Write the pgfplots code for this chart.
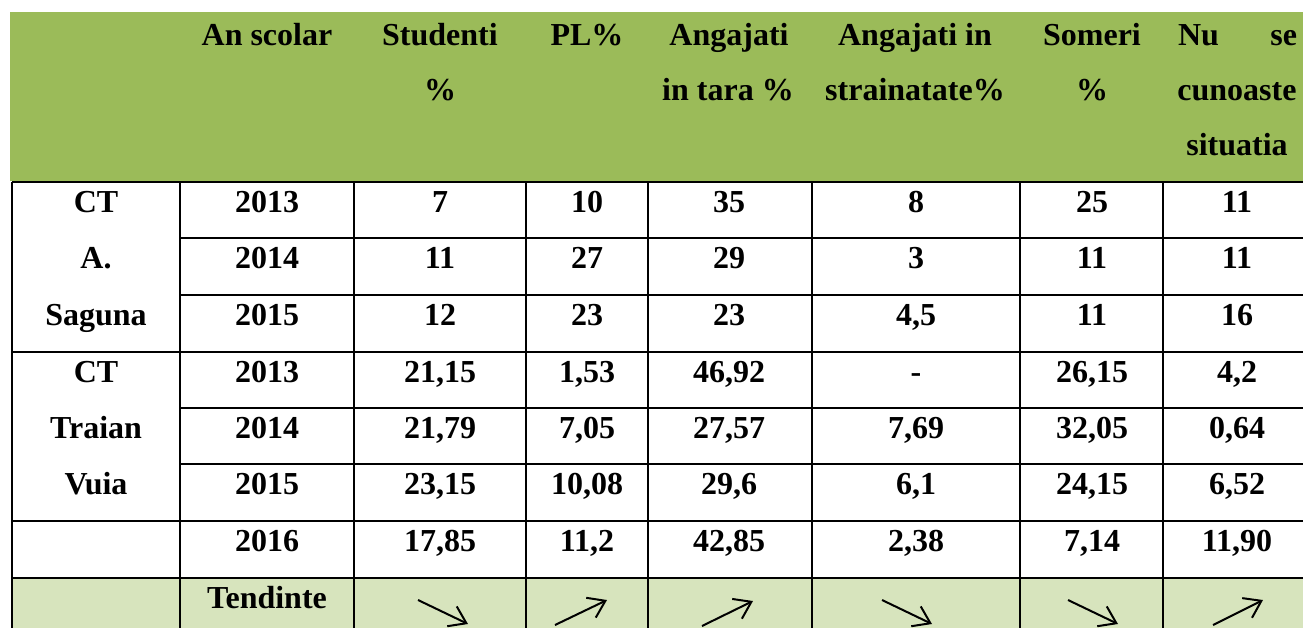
\documentclass[border=0pt]{standalone}
\usepackage{pgfplots}
\pgfplotsset{compat=1.18}
\usepackage{pgfplotstable}
\usepackage{fontspec}
\setmainfont{Liberation Serif}
\usetikzlibrary{arrows.meta}
\definecolor{hdr}{HTML}{9BBB59}
\definecolor{lgt}{HTML}{D7E4BD}

\pgfplotstableread[col sep=semicolon]{
x;y;label
267;45;An scolar
440;45;Studenti
440;100;\%
587;45;PL\%
729;45;Angajati
728;100;in tara \%
915;45;Angajati in
915;100;strainatate\%
1092;45;Someri
1092;100;\%
1237;100;cunoaste
1237;155;situatia
96;212;CT
96;268;A.
96;325;Saguna
96;382;CT
96;438;Traian
96;494;Vuia
267;212;2013
267;268;2014
267;325;2015
267;382;2013
267;438;2014
267;494;2015
267;551;2016
267;608;Tendinte
440;212;7
587;212;10
729;212;35
916;212;8
1092;212;25
1237;212;11
440;268;11
587;268;27
729;268;29
916;268;3
1092;268;11
1237;268;11
440;325;12
587;325;23
729;325;23
916;325;4,5
1092;325;11
1237;325;16
440;382;21,15
587;382;1,53
729;382;46,92
916;382;-
1092;382;26,15
1237;382;4,2
440;438;21,79
587;438;7,05
729;438;27,57
916;438;7,69
1092;438;32,05
1237;438;0,64
440;494;23,15
587;494;10,08
729;494;29,6
916;494;6,1
1092;494;24,15
1237;494;6,52
440;551;17,85
587;551;11,2
729;551;42,85
916;551;2,38
1092;551;7,14
1237;551;11,90
}\cells

\begin{document}
\begin{tikzpicture}
\begin{axis}[
  x=0.5pt, y=0.5pt, y dir=reverse,
  xmin=0, xmax=1303, ymin=0, ymax=628,
  scale only axis, hide axis, clip=false,
  font=\fontsize{16}{19}\selectfont\bfseries,
]
% fills
\addplot[fill=hdr, draw=none] coordinates {(10,12) (1303,12) (1303,181) (10,181)} -- cycle;
\addplot[fill=lgt, draw=none] coordinates {(12,578) (1303,578) (1303,628) (12,628)} -- cycle;
% horizontal rules
\addplot[black, line width=1.3pt] coordinates {(12,182) (1303,182)};
\addplot[black, line width=1.3pt] coordinates {(180,238) (1303,238)};
\addplot[black, line width=1.3pt] coordinates {(180,295) (1303,295)};
\addplot[black, line width=1.3pt] coordinates {(12,352) (1303,352)};
\addplot[black, line width=1.3pt] coordinates {(180,408) (1303,408)};
\addplot[black, line width=1.3pt] coordinates {(180,464) (1303,464)};
\addplot[black, line width=1.3pt] coordinates {(12,521) (1303,521)};
\addplot[black, line width=1.3pt] coordinates {(12,578) (1303,578)};
% vertical rules
\addplot[black, line width=1.3pt] coordinates {(12,182) (12,628)};
\addplot[black, line width=1.3pt] coordinates {(180,182) (180,628)};
\addplot[black, line width=1.3pt] coordinates {(354,182) (354,628)};
\addplot[black, line width=1.3pt] coordinates {(526,182) (526,628)};
\addplot[black, line width=1.3pt] coordinates {(648,182) (648,628)};
\addplot[black, line width=1.3pt] coordinates {(812,182) (812,628)};
\addplot[black, line width=1.3pt] coordinates {(1020,182) (1020,628)};
\addplot[black, line width=1.3pt] coordinates {(1163,182) (1163,628)};
% text
\addplot[draw=none, mark=none, nodes near coords, point meta=explicit symbolic,
  every node near coord/.append style={anchor=base, inner sep=0pt, outer sep=0pt, font=\fontsize{16}{19}\selectfont\bfseries}]
  table[x=x, y=y, meta=label] {\cells};
\addplot[draw=none, mark=none, nodes near coords, point meta=explicit symbolic,
  every node near coord/.append style={anchor=base west, inner sep=0pt, outer sep=0pt, font=\fontsize{16}{19}\selectfont\bfseries}]
  coordinates {(1178,45) [Nu]};
\addplot[draw=none, mark=none, nodes near coords, point meta=explicit symbolic,
  every node near coord/.append style={anchor=base east, inner sep=0pt, outer sep=0pt, font=\fontsize{16}{19}\selectfont\bfseries}]
  coordinates {(1297,45) [se]};
% trend arrows
\addplot[black, line width=1pt, -{Straight Barb[length=8pt,width=11pt]}] coordinates {(418,600) (468,624)};
\addplot[black, line width=1pt, -{Straight Barb[length=8pt,width=11pt]}] coordinates {(555,625) (607,600)};
\addplot[black, line width=1pt, -{Straight Barb[length=8pt,width=11pt]}] coordinates {(702,626) (753,601)};
\addplot[black, line width=1pt, -{Straight Barb[length=8pt,width=11pt]}] coordinates {(882,600) (932,624)};
\addplot[black, line width=1pt, -{Straight Barb[length=8pt,width=11pt]}] coordinates {(1068,600) (1118,624)};
\addplot[black, line width=1pt, -{Straight Barb[length=8pt,width=11pt]}] coordinates {(1213,625) (1263,600)};
\end{axis}
\pgfresetboundingbox
\path (current axis.south west) rectangle (current axis.north east);
\end{tikzpicture}
\end{document}
